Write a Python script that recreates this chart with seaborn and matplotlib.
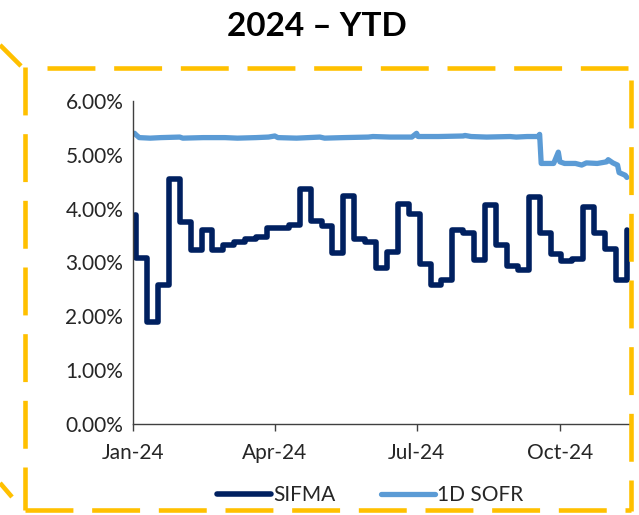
import pandas as pd
import matplotlib.pyplot as plt
import matplotlib.dates as mdates
from matplotlib.lines import Line2D
from matplotlib.ticker import FuncFormatter
import seaborn as sns

# ── data ──────────────────────────────────────────────────────
sifma_dates = ['2024-01-02', '2024-01-03', '2024-01-10', '2024-01-17', '2024-01-24', '2024-01-31',
               '2024-02-07', '2024-02-14', '2024-02-21', '2024-02-28',
               '2024-03-06', '2024-03-13', '2024-03-20', '2024-03-27',
               '2024-04-03', '2024-04-10', '2024-04-17', '2024-04-24',
               '2024-05-01', '2024-05-08', '2024-05-15', '2024-05-22', '2024-05-29',
               '2024-06-05', '2024-06-12', '2024-06-19', '2024-06-26',
               '2024-07-03', '2024-07-10', '2024-07-17', '2024-07-24', '2024-07-31',
               '2024-08-07', '2024-08-14', '2024-08-21', '2024-08-28',
               '2024-09-04', '2024-09-11', '2024-09-18', '2024-09-25',
               '2024-10-02', '2024-10-09', '2024-10-16', '2024-10-23', '2024-10-30',
               '2024-11-06', '2024-11-13']
sifma_values = [3.88, 3.09, 1.90, 2.58, 4.56, 3.75,
                3.23, 3.61, 3.23, 3.32,
                3.38, 3.44, 3.47, 3.65,
                3.65, 3.69, 4.37, 3.78,
                3.67, 3.17, 4.23, 3.43, 3.38,
                2.89, 3.20, 4.09, 3.90,
                2.97, 2.58, 2.67, 3.61, 3.54,
                3.04, 4.06, 3.33, 2.94,
                2.86, 4.22, 3.55, 3.16,
                3.02, 3.06, 4.03, 3.54, 3.25,
                2.67, 3.60]

sofr_dates = ['2024-01-02', '2024-01-03', '2024-01-05', '2024-01-12', '2024-01-19', '2024-01-31',
              '2024-02-02', '2024-02-15', '2024-02-29', '2024-03-08', '2024-03-20', '2024-03-28',
              '2024-04-01', '2024-04-03', '2024-04-15', '2024-04-30', '2024-05-03', '2024-05-15',
              '2024-05-31', '2024-06-03', '2024-06-14', '2024-06-28', '2024-07-01', '2024-07-02',
              '2024-07-15', '2024-07-31', '2024-08-01', '2024-08-05', '2024-08-15', '2024-08-30',
              '2024-09-03', '2024-09-10', '2024-09-17', '2024-09-18', '2024-09-19', '2024-09-27',
              '2024-09-30', '2024-10-01', '2024-10-04', '2024-10-11', '2024-10-15', '2024-10-18',
              '2024-10-25', '2024-10-31', '2024-11-01', '2024-11-04', '2024-11-07', '2024-11-08',
              '2024-11-12', '2024-11-13']
sofr_values = [5.40, 5.37, 5.32, 5.31, 5.32, 5.33,
               5.31, 5.32, 5.32, 5.31, 5.32, 5.33,
               5.35, 5.32, 5.31, 5.33, 5.31, 5.32,
               5.33, 5.34, 5.33, 5.33, 5.40, 5.34,
               5.34, 5.35, 5.36, 5.34, 5.33, 5.34,
               5.33, 5.34, 5.34, 5.38, 4.84, 4.84,
               5.05, 4.87, 4.84, 4.84, 4.81, 4.85,
               4.84, 4.87, 4.91, 4.85, 4.81, 4.67,
               4.62, 4.58]

x_ticks = ['2024-01-01', '2024-04-01', '2024-07-01', '2024-10-01']
y_ticks = [0, 1, 2, 3, 4, 5, 6]

sifma = pd.DataFrame({'date': pd.to_datetime(sifma_dates), 'rate': sifma_values})
sofr = pd.DataFrame({'date': pd.to_datetime(sofr_dates), 'rate': sofr_values})

# ── style ─────────────────────────────────────────────────────
sns.set_theme(style='white')
plt.rcParams['font.family'] = ['Lato', 'DejaVu Sans']
plt.rcParams['lines.scale_dashes'] = False
NAVY, LIGHT, GOLD = '#002060', '#5B9BD5', '#FFC000'

W, H = 639, 515
fig = plt.figure(figsize=(W / 100, H / 100), dpi=100)
ax = fig.add_axes([133 / W, 1 - 424 / H, (630 - 133) / W, (424 - 101) / H])

sns.lineplot(data=sifma, x='date', y='rate', ax=ax, color=NAVY, linewidth=4.0,
             drawstyle='steps-post', label='SIFMA', legend=False)
sns.lineplot(data=sofr, x='date', y='rate', ax=ax, color=LIGHT, linewidth=3.8,
             label='1D SOFR', legend=False)

ax.set_xlim(pd.Timestamp('2024-01-01'), pd.Timestamp('2024-11-15'))
ax.set_ylim(0, 6)
ax.set_xticks(pd.to_datetime(x_ticks))
ax.xaxis.set_major_formatter(mdates.DateFormatter('%b-%y'))
ax.set_yticks(y_ticks)
ax.yaxis.set_major_formatter(FuncFormatter(lambda v, _: f'{v:.2f}%'))
ax.set_xlabel('')
ax.set_ylabel('')
ax.grid(False)
for s in ['top', 'right']:
    ax.spines[s].set_visible(False)
for s in ['left', 'bottom']:
    ax.spines[s].set_color('#404040')
    ax.spines[s].set_linewidth(1.0)
ax.tick_params(axis='x', direction='out', length=5, width=1, color='#404040',
               labelsize=15, pad=9, bottom=True)
ax.tick_params(axis='y', length=0, labelsize=15, pad=7)

fig.text(317 / W, 1 - 26 / H, '2024 \u2013 YTD', ha='center', va='center',
         fontsize=24, fontweight='bold', color='black')

handles = [Line2D([], [], color=NAVY, lw=4.0, solid_capstyle='round'),
           Line2D([], [], color=LIGHT, lw=3.8, solid_capstyle='round')]
fig.legend(handles, ['SIFMA', '1D SOFR'], loc='center', ncol=2, frameon=False,
           bbox_to_anchor=(370 / W, 1 - 495 / H), fontsize=15,
           handlelength=2.6, handletextpad=0.1, columnspacing=2.2)

# ── gold dashed callout frame ─────────────────────────────────
def frame(xs, ys, dashed=True, offset=0):
    ls = (offset, (34.5, 13.5)) if dashed else '-'
    fig.add_artist(Line2D([x / W for x in xs], [1 - y / H for y in ys],
                          transform=fig.transFigure, color=GOLD, lw=3.3,
                          linestyle=ls, solid_capstyle='butt', dash_capstyle='butt'))

frame([47, 628], [68, 68])
frame([631, 631], [80, 511])
frame([25, 631], [510, 510])
frame([25, 25], [67, 510])
frame([0, 21], [45, 66], dashed=False)
frame([0, 12], [483, 497], dashed=False)

fig.savefig('out.png', dpi=100)
